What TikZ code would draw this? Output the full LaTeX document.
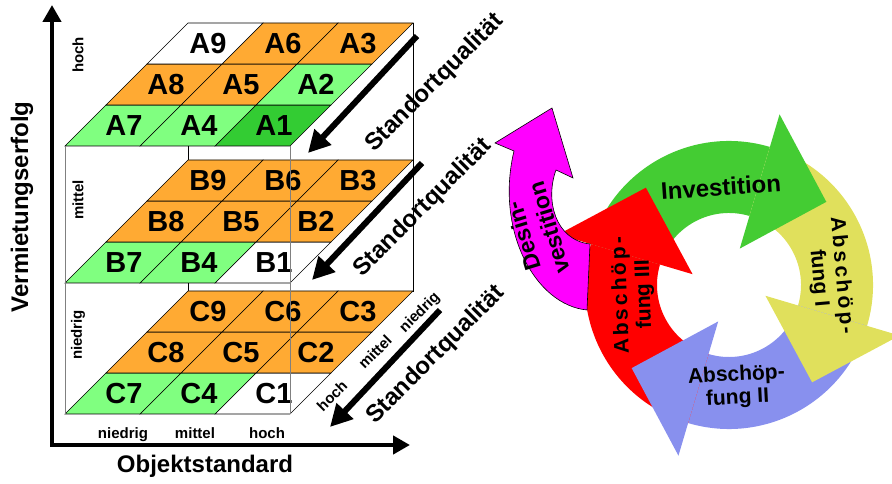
\documentclass[tikz,border=0pt]{standalone}
\usepackage{fontspec}
\setmainfont{Liberation Sans}
\usepackage{xcolor}
\usepackage{tikz}
\usetikzlibrary{arrows.meta}

\definecolor{orng}{HTML}{FFAA33}
\definecolor{lgreen}{HTML}{80FF80}
\definecolor{dgreen}{HTML}{33CC33}
\definecolor{cgreen}{HTML}{44CC33}
\definecolor{cyellow}{HTML}{E0E05C}
\definecolor{cblue}{HTML}{8890EE}
\definecolor{cred}{HTML}{FF0000}
\definecolor{cmagenta}{HTML}{FF00FF}

\begin{document}
\begin{tikzpicture}[x=1pt,y=1pt,
    cell/.style={draw=black, line width=0.6pt},
    celltext/.style={font=\fontsize{29}{29}\selectfont\bfseries},
    smalltext/.style={font=\fontsize{15}{15}\selectfont\bfseries, inner sep=1pt},
    bigtext/.style={font=\fontsize{24}{24}\selectfont\bfseries, inner sep=1pt},
    ringtext/.style={font=\fontsize{21}{23}\selectfont\bfseries, align=center, inner sep=0pt},
    axis/.style={line width=4.5pt, {Triangle[length=17pt,width=18pt]}-{Triangle[length=17pt,width=18pt]}},
    diag/.style={line width=6pt, -{Triangle[length=22pt,width=22pt]}}]
    \useasboundingbox (0,0) rectangle (892,484);

    \draw[axis] (52,479) -- (52,39) -- (410,39);

    \draw[line width=0.7pt] (188,461) -- (188,192);
    \draw[line width=0.7pt] (413,461) -- (413,192);
    \foreach \L/\Y/\cols in {A/338/{dgreen,lgreen,orng,lgreen,orng,orng,lgreen,orng,white},
                             B/201/{white,orng,orng,lgreen,orng,orng,lgreen,orng,orng},
                             C/70/{white,orng,orng,lgreen,orng,orng,lgreen,orng,orng}}
      \foreach \c [count=\n] in \cols {
        \pgfmathtruncatemacro\col{2-int((\n-1)/3)}
        \pgfmathtruncatemacro\row{mod(\n-1,3)}
        \path[cell, fill=\c] (65+75*\col+41*\row,\Y+41*\row) -- ++(75,0) -- ++(41,41) -- ++(-75,0) -- cycle;
        \node[celltext] (\L\n) at (124+75*\col+42*\row,\Y+20.5+41*\row) {\L\n};
      }
    \draw[gray, line width=0.7pt] (65,338) -- (65,70) (290,338) -- (290,70);

    \foreach \t/\y in {hoch/429, mittel/284, niedrig/149} \node[smalltext, rotate=90] (v\t) at (78,\y) {\t};
    \foreach \t/\x in {niedrig/123, mittel/195, hoch/267} \node[smalltext, anchor=base] (o\t) at (\x,45) {\t};
    \foreach \t/\x/\y in {hoch/332/88, mittel/375/132, niedrig/420/171} \node[smalltext, rotate=45] (s\t) at (\x,\y) {\t};
    \node[bigtext, rotate=90] (vert) at (22,277) {Vermietungserfolg};
    \node[bigtext, anchor=base] (horiz) at (205,11) {Objektstandard};

    \foreach \sx/\sy/\ex/\ey in {417/448/308/331, 422/321/312/204, 440/174/330/57} \draw[diag] (\sx,\sy) -- (\ex,\ey);
    \foreach \x/\y [count=\k] in {435/401, 423/276, 436/129} \node[bigtext, rotate=45] (sq\k) at (\x,\y) {Standortqualität};

    \begin{scope}[shift={(729,199)}]
      \foreach \a/\b/\c in {163.5/73.5/cgreen, 73.5/-16.5/cyellow, -16.5/-106.5/cblue, 253.5/163.5/cred}
        \fill[\c] (\a:144) arc[start angle=\a, end angle=\b, radius=144] -- (\b:72) arc[start angle=\b, end angle=\a, radius=72] -- cycle;
      \foreach \b/\c in {73.5/cgreen, -16.5/cyellow, -106.5/cblue, 163.5/cred}
        \fill[\c] (\b:38) -- (\b:178) -- ({\b-33}:128) -- cycle;
    \end{scope}
    \draw[fill=cmagenta, line width=0.6pt] (587,174) .. controls (535,179) and (495,254) .. (514,333) -- (495,341) -- (552,376) -- (573,306) -- (556,314) .. controls (545,284) and (555,244) .. (590,240) -- cycle;

    \node[ringtext, font=\fontsize{24}{24}\selectfont\bfseries, rotate=4] (inv) at (721,297) {Investition};
    \node[ringtext, rotate=-85] (ab1) at (830,207) {{\addfontfeatures{LetterSpace=14}Abschöp-}\\fung I};
    \node[ringtext, rotate=3] (ab2) at (737,97) {Abschöp-\\fung II};
    \node[ringtext, rotate=92] (ab3) at (633,189) {{\addfontfeatures{LetterSpace=14}Abschöp-}\\fung III};
    \node[ringtext, font=\fontsize{23}{27}\selectfont\bfseries, rotate=107] (des) at (536,252) {Desin-\\vestition};
\end{tikzpicture}
\end{document}
